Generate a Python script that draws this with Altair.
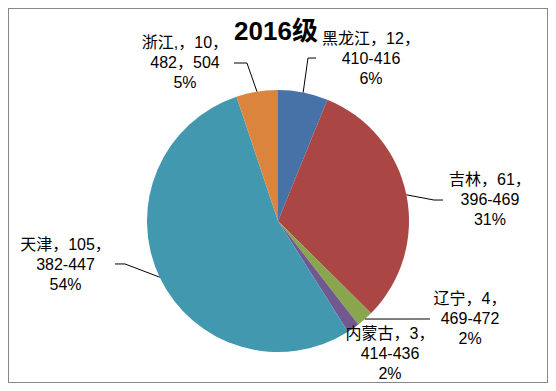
import math
import altair as alt
import pandas as pd

# ---- data ----
provinces = ["黑龙江", "吉林", "辽宁", "内蒙古", "天津", "浙江"]
counts = [12, 61, 4, 3, 105, 10]
score_ranges = ["410-416", "396-469", "469-472", "414-436", "382-447", "482，504"]
name_labels = ["黑龙江", "吉林", "辽宁", "内蒙古", "天津", "浙江,"]
colors = ["#4672A8", "#AA4644", "#89A54E", "#71588F", "#4198AF", "#DB843D"]
title_text = "2016级"

# ---- layout (pixels within plot area) ----
W, H = 540, 375
CX, CY, R = 270, 213, 131
FONT = "Liberation Sans, Noto Sans CJK SC"
FS, LH = 16, 20

# label anchors (centre of first text line) in pie-radius units relative to pie centre
label_pos = {
    "黑龙江": (0.710, 1.389),
    "吉林": (1.618, 0.313),
    "辽宁": (1.466, -0.595),
    "内蒙古": (0.855, -0.863),
    "天津": (-1.622, -0.183),
    "浙江": (-0.710, 1.359),
}
# leader line elbow / end points (radius units)
leaders = {
    "黑龙江": [(0.229, 1.244), (0.290, 1.244)],
    "吉林": [(1.191, 0.160), (1.260, 0.160)],
    "辽宁": [(1.160, -0.748)],
    "天津": [(-1.168, -0.328), (-1.244, -0.328)],
    "浙江": [(-0.237, 1.206), (-0.336, 1.206)],
}

total = sum(counts)
pie_df = pd.DataFrame({"province": provinces, "count": counts, "order": list(range(len(provinces)))})

mids = {}
cum = 0
for p, c in zip(provinces, counts):
    mids[p] = 2 * math.pi * (cum + c / 2) / total
    cum += c

lab_rows = []
for p, c, rng, nm in zip(provinces, counts, score_ranges, name_labels):
    pct = round(100 * c / total)
    u, v = label_pos[p]
    lab_rows.append({"province": p, "u": u, "v": v,
                     "text": f"{nm}，{c}，\n{rng}\n{pct}%"})
lab_df = pd.DataFrame(lab_rows)

line_rows = []
for p, pts in leaders.items():
    a = mids[p]
    seq = [(math.sin(a), math.cos(a))] + pts
    for i, (u, v) in enumerate(seq):
        line_rows.append({"province": p, "u": u, "v": v, "i": i})
line_df = pd.DataFrame(line_rows)

xscale = alt.Scale(domain=[(0 - CX) / R, (W - CX) / R], nice=False, zero=False)
yscale = alt.Scale(domain=[(CY - H) / R, CY / R], nice=False, zero=False)

pie = alt.Chart(pie_df).mark_arc(outerRadius=R).encode(
    theta=alt.Theta("count:Q", stack=True),
    color=alt.Color("province:N", scale=alt.Scale(domain=provinces, range=colors), legend=None),
    order=alt.Order("order:Q"),
    x=alt.value(CX),
    y=alt.value(CY),
)

lines = alt.Chart(line_df).mark_line(color="#000000", strokeWidth=1).encode(
    x=alt.X("u:Q", scale=xscale, axis=None),
    y=alt.Y("v:Q", scale=yscale, axis=None),
    detail="province:N",
    order="i:Q",
)

labels = alt.Chart(lab_df).mark_text(
    lineBreak="\n", fontSize=FS, lineHeight=LH, align="center", baseline="middle",
    font=FONT, color="#000000"
).encode(
    x=alt.X("u:Q", scale=xscale, axis=None),
    y=alt.Y("v:Q", scale=yscale, axis=None),
    text="text:N",
)

title = alt.Chart(pd.DataFrame({"t": [title_text]})).mark_text(
    fontSize=26, fontWeight="bold", font=FONT, align="center", baseline="middle", color="#000000"
).encode(x=alt.value(268), y=alt.value(24), text="t:N")

chart = alt.layer(pie, lines, labels, title).properties(
    width=W, height=H, padding=0, autosize=alt.AutoSizeParams(type="none")
).configure_view(stroke="#888888", strokeWidth=2)

chart.save("out.html", embed_options={"renderer": "svg", "actions": False})
